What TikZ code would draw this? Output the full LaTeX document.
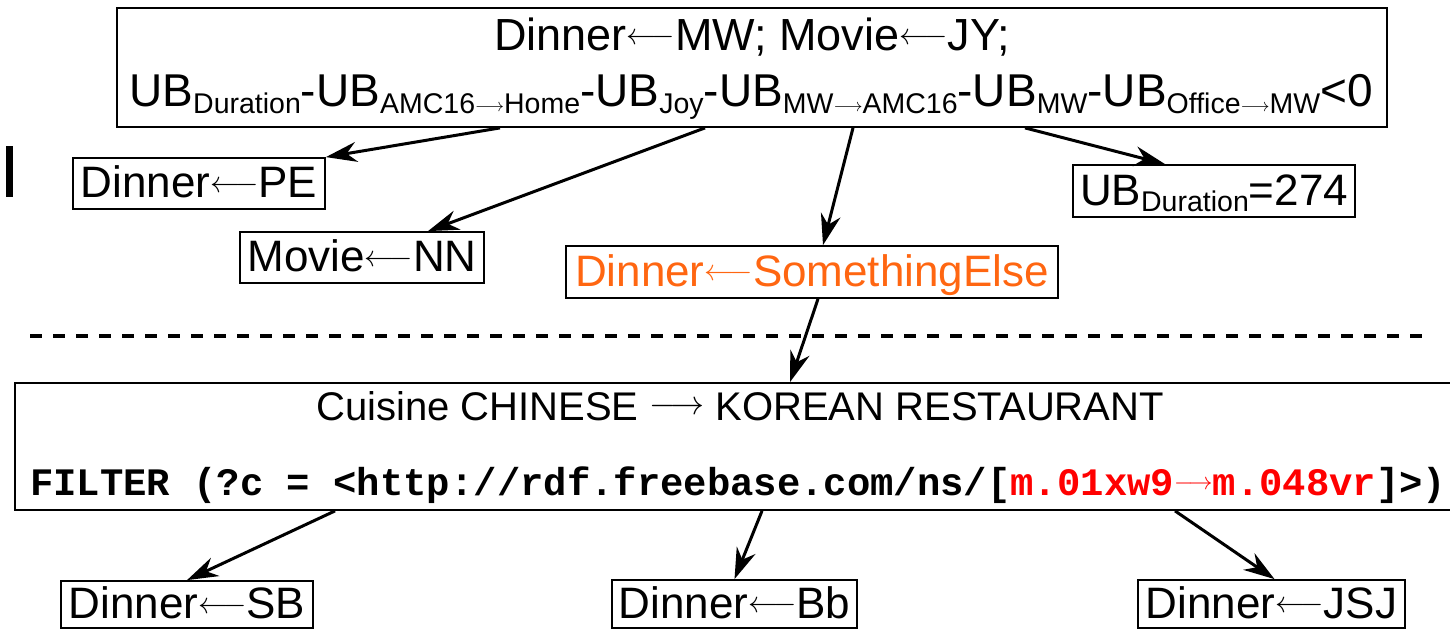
\documentclass[tikz,border=0pt]{standalone}
\usepackage{fix-cm}
\usepackage{fontspec}
\setmainfont{Liberation Sans}
\setmonofont{Liberation Mono}
\usetikzlibrary{arrows.meta}
\definecolor{orangetxt}{RGB}{255,102,17}
% math arrow at a given size, raised by a given amount
\newcommand\myarr[3]{\raisebox{#3}{\fontsize{#2}{#2}\selectfont$#1$}}
\newcommand\larr{\myarr{\longleftarrow}{30}{5.5pt}}
\newcommand\sarr{\myarr{\longrightarrow}{18}{1.5pt}}
\newcommand\subt[1]{\raisebox{-6.5pt}{\fontsize{28.5}{28.5}\selectfont #1}}
\begin{document}
\begin{tikzpicture}[x=1pt,y=-1pt,
  box/.style={draw, line width=1.8pt, inner sep=0pt},
  lbl/.style={box, font=\fontsize{44}{44}\selectfont, text height=30pt, text depth=2pt},
  link/.style={line width=3pt, -{Stealth[length=31pt,width=20pt,inset=10pt]}},
  txt/.style={inner sep=0pt, anchor=base}]
\useasboundingbox (0,0) rectangle (1450,629);

% top constraint box
\node[box, minimum width=1270pt, minimum height=119pt] (top) at (752,67.5) {};
\node[txt, font=\fontsize{45}{45}\selectfont] (top1) at (752,50) {Dinner\larr MW; Movie\larr JY;};
\node[txt, font=\fontsize{46}{46}\selectfont] (top2) at (751,106.5)
  {UB\subt{Duration}-UB\subt{AMC16\sarr Home}-UB\subt{Joy}-UB\subt{MW\sarr AMC16}-UB\subt{MW}-UB\subt{Office\sarr MW}<0};

% candidate repairs
\node[lbl, minimum width=252pt, minimum height=51pt] (PE) at (199,183.5) {Dinner\larr PE};
\node[lbl, minimum width=244pt, minimum height=51pt] (NN) at (362,257.5) {Movie\larr NN};
\node[lbl, minimum width=282pt, minimum height=52pt] (UB) at (1214,191) {UB\subt{Duration}=274};
\node[lbl, text=orangetxt, minimum width=492pt, minimum height=52pt] (SE) at (812,272) {Dinner\larr SomethingElse};

% separator
\draw[line width=3.5pt, dash pattern=on 12pt off 11pt] (30,336) -- (1432,336);
\fill (6,146) rectangle (12.7,196.5);

% query rewrite box
\node[box, minimum width=1445pt, minimum height=127pt] (bot) at (737.5,446.5) {};
\node[txt, font=\fontsize{40}{40}\selectfont] (cuis) at (740,420)
  {Cuisine CHINESE \myarr{\longrightarrow}{34}{5.5pt} KOREAN RESTAURANT};
\node[txt, anchor=base west, font=\fontsize{38.9}{38.9}\selectfont\ttfamily\bfseries] (filt) at (30,495)
  {FILTER (?c = <http://rdf.freebase.com/ns/[\textcolor{red}{m.01xw9\myarr{\longrightarrow}{24}{6pt}m.048vr}]>)};

% results
\node[lbl, minimum width=252pt, minimum height=47pt] (SB) at (187,604.5) {Dinner\larr SB};
\node[lbl, minimum width=245pt, minimum height=48pt] (Bb) at (734.5,604) {Dinner\larr Bb};
\node[lbl, minimum width=267pt, minimum height=48pt] (JSJ) at (1271.5,604) {Dinner\larr JSJ};

% connectors
\draw[link] ([xshift=-252pt]top.south) -- (PE.north east);
\draw[link] ([xshift=-47pt]top.south) -- ([xshift=66pt]NN.north);
\draw[link] ([xshift=101pt]top.south) -- ([xshift=11pt]SE.north);
\draw[link] ([xshift=273pt]top.south) -- ([xshift=-49pt]UB.north);
\draw[link] ([xshift=6pt]SE.south) -- ([xshift=52.5pt]bot.north);
\draw[link] ([xshift=-402.5pt]bot.south) -- (SB.north);
\draw[link] ([xshift=24.5pt]bot.south) -- (Bb.north);
\draw[link] ([xshift=437.5pt]bot.south) -- ([xshift=3pt]JSJ.north);
\end{tikzpicture}
\end{document}
